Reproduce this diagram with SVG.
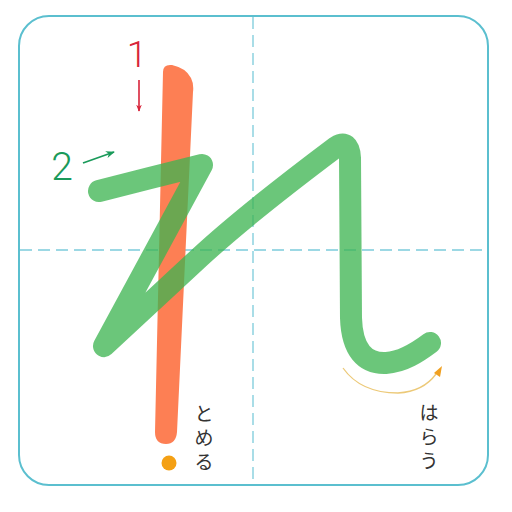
<svg xmlns="http://www.w3.org/2000/svg" width="512" height="512" viewBox="0 0 512 512">
  <defs>
    <style>
      .guide { stroke: #7ccbdb; stroke-width: 1.3; stroke-dasharray: 12 6; fill: none; }
      .label { font-family: "Noto Sans CJK JP", "Noto Sans", sans-serif; font-size: 19px; fill: #333; text-anchor: middle; }
      .num { font-family: Roboto, "Liberation Sans", sans-serif; font-weight: 300; }
    </style>
    <marker id="arrRed" viewBox="0 0 10 10" refX="9" refY="5" markerWidth="7" markerHeight="7" orient="auto" markerUnits="userSpaceOnUse">
      <path d="M0,1 L10,5 L0,9 L3,5 Z" fill="#d8243a"/>
    </marker>
    <marker id="arrGreen" viewBox="0 0 10 10" refX="9" refY="5" markerWidth="9" markerHeight="9" orient="auto" markerUnits="userSpaceOnUse">
      <path d="M0,1 L10,5 L0,9 L3,5 Z" fill="#1a9a5a"/>
    </marker>
  </defs>
  <rect width="512" height="512" fill="#ffffff"/>
  <g id="frame">
    <rect x="19" y="16" width="469" height="469" rx="30" ry="30" fill="none" stroke="#5bbfcf" stroke-width="2"/>
    <line class="guide" x1="253" y1="17" x2="253" y2="484"/>
    <line class="guide" x1="20" y1="250" x2="487" y2="250"/>
  </g>
  <g id="stroke1">
    <path d="M163,72 Q163,64 172,65 Q186,68 191,78 Q194,84 193,92 L177,432 Q176,444 166,444 Q155,444 155,432 Z" fill="#fd7f54"/>
    <circle cx="169" cy="463" r="7.5" fill="#f4a014"/>
  </g>
  <g id="stroke2">
    <path d="M99,191 L150,178 L202,165 L104,346 L200,257 C240,220 292,180 336,147 Q349,139 350,158 L351,318 C352,350 365,364 386,363 C403,362 418,352 430,343" fill="none" stroke="#3cb450" stroke-opacity="0.76" stroke-width="22" stroke-linecap="round" stroke-linejoin="round"/>
  </g>
  <g id="harau-mark">
    <path d="M343,368 C355,385 375,393 398,393 C415,392 428,385 436,374" fill="none" stroke="#ecc978" stroke-width="1.3"/>
    <path d="M434,373 L442,366 L440,377 Z" fill="#f0a020"/>
  </g>
  <g id="connectors">
    <line x1="139" y1="80" x2="139" y2="111" stroke="#d8243a" stroke-width="1.6" marker-end="url(#arrRed)"/>
    <line x1="83" y1="163" x2="114" y2="152" stroke="#1a9a5a" stroke-width="1.8" marker-end="url(#arrGreen)"/>
  </g>
  <g id="labels">
    <text class="num" x="137" y="67" font-size="37" fill="#d8243a" text-anchor="middle">1</text>
    <text class="num" x="62" y="180" font-size="39" fill="#1a9a5a" text-anchor="middle">2</text>
    <g id="tomeru">
      <text class="label" x="204" y="421">と</text>
      <text class="label" x="204" y="445">め</text>
      <text class="label" x="204" y="469">る</text>
    </g>
    <g id="harau">
      <text class="label" x="429" y="420">は</text>
      <text class="label" x="429" y="444">ら</text>
      <text class="label" x="429" y="468">う</text>
    </g>
  </g>
</svg>
